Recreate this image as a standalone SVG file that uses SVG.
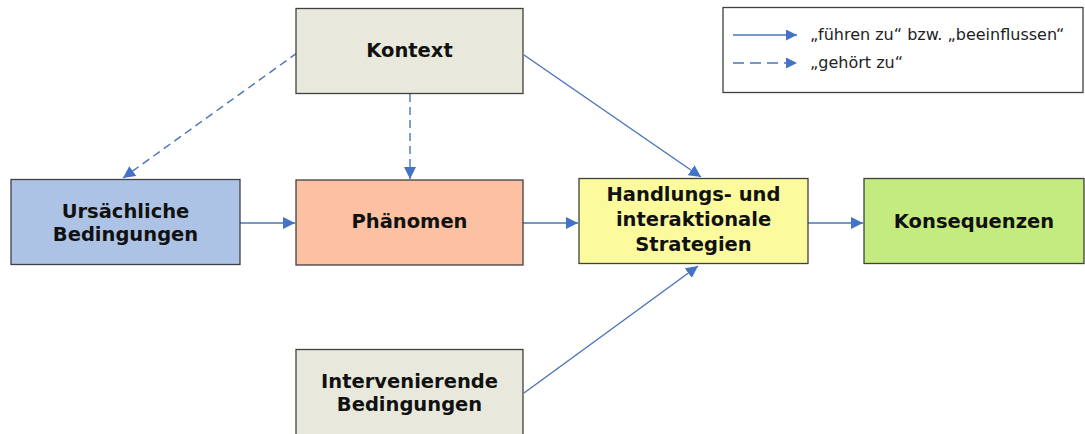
<svg xmlns="http://www.w3.org/2000/svg" width="1085" height="434" viewBox="0 0 1085 434">
<defs>
<style>
.box{stroke:#404040;stroke-width:1.3}
.lbl{font-family:"DejaVu Sans",Verdana,sans-serif;font-weight:bold;font-size:19.5px;fill:#111;text-anchor:middle}
.leg{font-family:"DejaVu Sans",Verdana,sans-serif;font-size:16px;fill:#222}
.c{stroke:#4a74b8;stroke-width:1.4;fill:none}
.d{stroke-dasharray:8 5}
.dl{stroke-dasharray:11 6}
</style>
<marker id="ah" viewBox="0 0 10 10" refX="10" refY="5" markerWidth="11" markerHeight="11" markerUnits="userSpaceOnUse" orient="auto">
<path d="M0,0 L10,5 L0,10 Z" fill="#4472c4"/>
</marker>
<marker id="ahL" viewBox="0 0 10 10" refX="10" refY="5" markerWidth="12" markerHeight="12" markerUnits="userSpaceOnUse" orient="auto">
<path d="M0,0 L10,5 L0,10 Z" fill="#4472c4"/>
</marker>
</defs>
<rect width="1085" height="434" fill="#ffffff"/>
<g id="connectors">
<line class="c d" x1="297" y1="53" x2="123" y2="178" marker-end="url(#ahL)"/>
<line class="c d" x1="410" y1="94" x2="410" y2="179" marker-end="url(#ahL)"/>
<line class="c" x1="524" y1="55" x2="701" y2="177" marker-end="url(#ahL)"/>
<line class="c" x1="240" y1="223" x2="295" y2="223" marker-end="url(#ahL)"/>
<line class="c" x1="523" y1="223" x2="578" y2="223" marker-end="url(#ahL)"/>
<line class="c" x1="808" y1="223" x2="863" y2="223" marker-end="url(#ahL)"/>
<line class="c" x1="524" y1="393" x2="698" y2="266" marker-end="url(#ahL)"/>
</g>
<g id="kontext">
<rect class="box" x="296" y="8.5" width="227" height="85" fill="#e8e9dc"/>
<text class="lbl" x="409.5" y="57">Kontext</text>
</g>
<g id="ursaechliche">
<rect class="box" x="11" y="179.5" width="229" height="85" fill="#adc3e6"/>
<text class="lbl" x="125.5" y="218">Ursächliche</text>
<text class="lbl" x="125.5" y="241">Bedingungen</text>
</g>
<g id="phaenomen">
<rect class="box" x="296" y="180" width="227" height="85" fill="#fbc1a2"/>
<text class="lbl" x="409.5" y="228">Phänomen</text>
</g>
<g id="handlungs">
<rect class="box" x="579" y="178.5" width="229" height="85" fill="#fbfb9e"/>
<text class="lbl" x="693.5" y="201">Handlungs- und</text>
<text class="lbl" x="693.5" y="226">interaktionale</text>
<text class="lbl" x="693.5" y="251">Strategien</text>
</g>
<g id="konsequenzen">
<rect class="box" x="864" y="178.5" width="220" height="85" fill="#c4eb80"/>
<text class="lbl" x="974" y="228">Konsequenzen</text>
</g>
<g id="intervenierende">
<rect class="box" x="296" y="349.5" width="227" height="90" fill="#e8e9dc"/>
<text class="lbl" x="409.5" y="388">Intervenierende</text>
<text class="lbl" x="409.5" y="411">Bedingungen</text>
</g>
<g id="legend">
<rect x="723" y="7.5" width="360" height="85" fill="#ffffff" stroke="#404040" stroke-width="1.3"/>
<line class="c" x1="733" y1="35" x2="797" y2="35" marker-end="url(#ah)"/>
<line class="c dl" x1="733" y1="63" x2="797" y2="63" marker-end="url(#ah)"/>
<text class="leg" x="810" y="40">„führen zu“ bzw. „beeinflussen“</text>
<text class="leg" x="810" y="68">„gehört zu“</text>
</g>
</svg>
